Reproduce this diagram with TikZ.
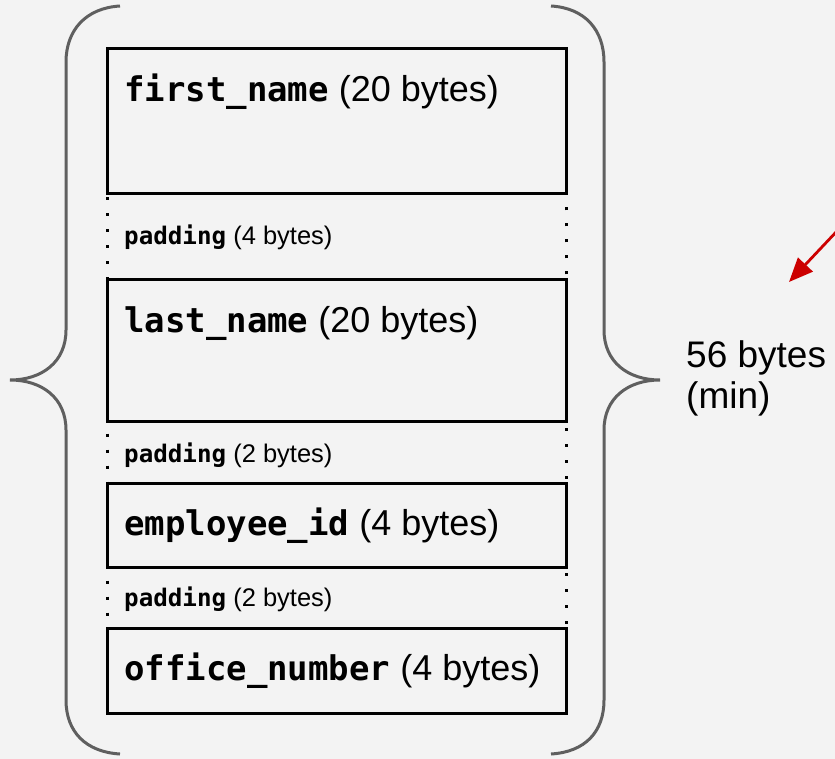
\documentclass[tikz,border=0pt]{standalone}
\usepackage{fontspec}
\setmainfont{Liberation Sans}
\newfontfamily\codefont{DejaVu Sans Mono}
\usetikzlibrary{arrows.meta}
\definecolor{bgcol}{HTML}{F3F3F3}
\definecolor{bracecol}{HTML}{5F5F5F}
\definecolor{arrowred}{HTML}{CC0000}
\tikzset{
  fieldbox/.style={draw=black, line width=3pt, rectangle, minimum width=459pt, anchor=north west, inner sep=0pt},
  padbox/.style={draw=black, line width=3pt, dash pattern=on 3pt off 13pt, rectangle, minimum width=459pt, anchor=north west, inner sep=0pt},
  bigtxt/.style={anchor=base west, inner sep=0pt, font=\fontsize{36}{42}\selectfont},
  smalltxt/.style={anchor=base west, inner sep=0pt, font=\fontsize{25.5}{30}\selectfont},
  bracestyle/.style={draw=bracecol, line width=3pt},
  redarrow/.style={draw=arrowred, line width=2.8pt, -{Triangle[length=24pt,width=20pt]}}
}
\newcommand{\bigcode}[1]{{\codefont\bfseries\fontsize{34}{40}\selectfont #1}}
\newcommand{\smallcode}[1]{{\codefont\bfseries\fontsize{24.2}{29}\selectfont #1}}
\begin{document}
\begin{tikzpicture}[x=1pt,y=-1pt]
\fill[bgcol] (0,0) rectangle (835,759);
\useasboundingbox (0,0) rectangle (835,759);
% padding regions
\node[padbox, minimum height=86pt] (pad1) at (106,192) {};
\node[padbox, minimum height=62pt] (pad2) at (106,420) {};
\node[padbox, minimum height=61pt] (pad3) at (106,566) {};
% field boxes
\node[fieldbox, minimum height=145pt] (fname) at (106,47) {};
\node[fieldbox, minimum height=142pt] (lname) at (106,278) {};
\node[fieldbox, minimum height=84pt] (empid) at (106,482) {};
\node[fieldbox, minimum height=85pt] (office) at (106,627) {};
% labels
\node[bigtxt] (fnamet) at (124,102) {\bigcode{first\_name} (20 bytes)};
\node[bigtxt] (lnamet) at (124,332) {\bigcode{last\_name} (20 bytes)};
\node[bigtxt] (empidt) at (124,535) {\bigcode{employee\_id} (4 bytes)};
\node[bigtxt] (officet) at (124,680) {\bigcode{office\_number} (4 bytes)};
\node[smalltxt] (pad1t) at (124,245) {\smallcode{padding} (4 bytes)};
\node[smalltxt] (pad2t) at (124,462) {\smallcode{padding} (2 bytes)};
\node[smalltxt] (pad3t) at (124,606) {\smallcode{padding} (2 bytes)};
% braces
\draw[bracestyle] (120,6) .. controls (86,8) and (66,30) .. (66,62) -- (66,330)
  .. controls (66,362) and (42,380) .. (10,380)
  .. controls (42,380) and (66,398) .. (66,430) -- (66,700)
  .. controls (66,732) and (86,752) .. (120,754);
\draw[bracestyle] (551,6) .. controls (585,8) and (604,30) .. (604,62) -- (604,330)
  .. controls (604,362) and (628,380) .. (660,380)
  .. controls (628,380) and (604,398) .. (604,430) -- (604,700)
  .. controls (604,732) and (585,752) .. (551,754);
% size label
\node[bigtxt, font=\fontsize{37}{42}\selectfont] (sizet) at (686,367) {56 bytes};
\node[bigtxt, font=\fontsize{37}{42}\selectfont] (mint) at (686,408) {(min)};
% arrow
\coordinate (arrstart) at (838,230);
\coordinate (arrtip) at (789,282);
\draw[redarrow] (arrstart) -- (arrtip);
\end{tikzpicture}
\end{document}
